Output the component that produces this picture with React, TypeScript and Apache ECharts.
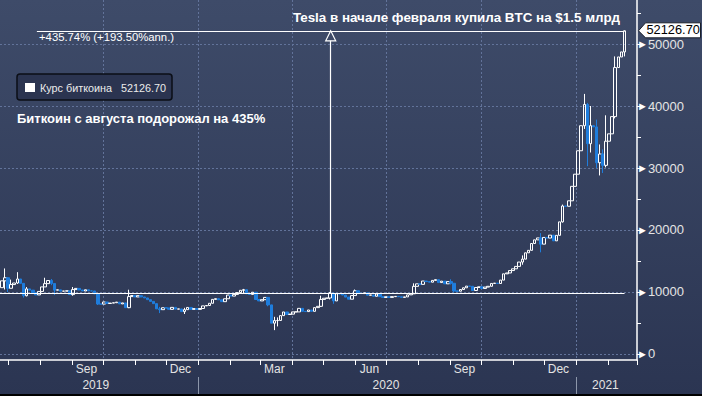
import React, { useEffect, useRef } from "react";
import * as echarts from "echarts";

// Days are counted from 1 January 2020 (day 0). One candle = 3 days.
const firstCandleDay = -190; // 25 Jun 2019
const candleStepDays = 3;
const firstOpen = 10700;

const closes = [
  // 2019
  11800, 12300, 10600, 11200, 11450, 12100, 11400, 9400, 10500, 10300,
  9880, 9530, 10090, 10820, 11350, 11850, 11380, 10300, 10350, 10140,
  10140, 10190, 9580, 10390, 10580, 10330, 10160, 10360, 10180, 10170,
  9700, 8060, 8050, 8390, 8150, 8210, 8270, 8370, 8080, 8240,
  7470, 9260, 9430, 9200, 9410, 9200, 9040, 8760, 8490, 8120,
  7280, 7150, 7460, 7420, 7200, 7520, 7240, 7270, 6830, 7150,
  7510, 7200, 7320, 7190,
  // 2020
  7340, 7760, 7820, 8180, 8810, 8920,
  8740, 8440, 8910, 9510, 9340, 9610, 9900, 10270, 10370, 9710,
  9610, 9960, 8790, 8560, 8760, 9130, 7920, 4970, 5390, 5410,
  6190, 6780, 6380, 6430, 6790, 6790, 7360, 6880, 6840, 7100,
  6880, 7480, 7690, 8800, 8990, 9030, 9810, 8560, 9730, 9670,
  9510, 9180, 8840, 9430, 10200, 9790, 9750, 9870, 9480, 9520,
  9310, 9690, 9250, 9120, 9230, 9130, 9250, 9290, 9240, 9130,
  9210, 9540, 9710, 10910, 11320, 11230, 11770, 11680, 11580, 11870,
  11990, 11520, 11750, 11320, 11680, 11410, 10170, 10130, 10400, 10680,
  10950, 10920, 10240, 10730, 10840, 10570, 10790, 10920, 11380, 11430,
  11370, 11920, 12930, 13070, 13460, 13740, 14130, 14830, 15300, 16320,
  16720, 17820, 18410, 18720, 17720, 18800, 18700, 19170, 18250, 19140,
  21310, 23870, 23830, 24710, 27040, 29000,
  // 2021
  32780, 36820, 40250, 33920, 36830, 36630, 30850, 32260, 30430, 34320,
  35510, 38290, 46200, 47910, 48720, 52126.7,
];

// [candle index, high, low] for candles whose wicks stick out
const wicks: [number, number, number][] = [
  [1, 13800, 10400], [2, 12400, 10000], [3, 12000, 10700], [5, 13200, 11300],
  [7, 11100, 9100], [8, 10800, 9300], [14, 12300, 11200], [16, 12100, 11100],
  [17, 11400, 9500], [23, 10800, 9400], [31, 9800, 7900], [41, 10370, 7400],
  [51, 7600, 6600], [59, 7450, 6450], [78, 10500, 9700], [86, 9200, 7700],
  [88, 6000, 3850], [89, 5900, 4450], [103, 9400, 7600], [106, 10000, 8800],
  [107, 9900, 8100], [114, 10400, 9400], [133, 11400, 9700], [145, 12050, 11200],
  [146, 11400, 9900], [168, 15900, 14400], [174, 19500, 16400], [181, 24100, 21200],
  [188, 41950, 36300], [189, 40500, 30300], [190, 40000, 32500], [192, 37800, 30000],
  [193, 33800, 28800], [194, 33000, 29200], [195, 38500, 30100], [198, 48000, 38000],
  [201, 52200, 48000],
];

const monthStartDays = [-184, -153, -122, -92, -61, -31, 0, 31, 60, 91, 121, 152, 182, 213, 244, 274, 305, 335, 366, 397, 425];
const monthLabelDays = [-108, -17, 74, 166, 258, 349];
const monthLabelNames = ["Sep", "Dec", "Mar", "Jun", "Sep", "Dec"];
const yearLabelDays = [-99, 182, 394.5];
const yearLabelNames = ["2019", "2020", "2021"];
const yearSeparatorDays = [0, 366];
const quarterGridDays = [-92, 0, 91, 182, 274, 366];
const yGridValues = [0, 10000, 20000, 30000, 40000, 50000];
const yMinorTickValues = [0, 5000, 10000, 15000, 20000, 25000, 30000, 35000, 40000, 45000, 50000, 55000];

const measureStartDay = -156;
const measureStartValue = 9729.8;
const lastDay = 413;
const lastClose = 52126.7;
const measureMidDay = 128.5;

const xMin = -191.71;
const xMax = 425.06;
const yMin = -968;
const yMax = 57097;

const FONT = '"Liberation Sans", Arial, sans-serif';
const BLUE = "#1f7ddc";
const GRID = "#62739a";

export default function App() {
  const ref = useRef<HTMLDivElement>(null);
  useEffect(() => {
    document.body.style.margin = "0";
    const chart = echarts.init(ref.current!, null, { renderer: "svg" });

    const candleData = closes.map((c, i) => {
      const o = i === 0 ? firstOpen : closes[i - 1];
      const w = wicks.find((k) => k[0] === i);
      const hi = Math.max(o, c, w ? w[1] : -Infinity);
      const lo = Math.min(o, c, w ? w[2] : Infinity);
      return [firstCandleDay + i * candleStepDays, o, c, lo, hi];
    });

    chart.setOption({
      animation: false,
      backgroundColor: "transparent",
      grid: { left: 0, right: 65, top: 0, bottom: 36 },
      xAxis: [
        {
          type: "value",
          min: xMin,
          max: xMax,
          position: "bottom",
          splitLine: { show: false },
          axisLine: { show: true, onZero: false, lineStyle: { color: "#ffffff", width: 1.5 } },
          axisTick: { show: false },
          axisLabel: {
            customValues: monthLabelDays,
            formatter: (v: number) => monthLabelNames[monthLabelDays.indexOf(v)] ?? "",
            color: "#e4e4e4",
            fontFamily: FONT,
            fontSize: 12,
            margin: 3,
          },
        },
        {
          type: "value",
          min: xMin,
          max: xMax,
          position: "bottom",
          offset: 17,
          splitLine: { show: false },
          axisLine: { show: false, onZero: false },
          axisTick: { show: false },
          axisLabel: {
            customValues: yearLabelDays,
            formatter: (v: number) => yearLabelNames[yearLabelDays.indexOf(v)] ?? "",
            color: "#e4e4e4",
            fontFamily: FONT,
            fontSize: 12,
            margin: 2,
          },
        },
      ],
      yAxis: {
        type: "value",
        position: "right",
        min: yMin,
        max: yMax,
        splitLine: { show: false },
        axisLine: { show: true, onZero: false, lineStyle: { color: "#ffffff", width: 1.5 } },
        axisTick: { show: true, customValues: yMinorTickValues, length: 4, lineStyle: { color: "#ffffff", width: 1 } },
        axisLabel: {
          customValues: yGridValues,
          margin: 0,
          formatter: (v: number) => `{t|►}{v|${v}}`,
          rich: {
            t: { fontSize: 11, color: "#ffffff", fontFamily: FONT, lineHeight: 12 },
            v: { fontSize: 13, color: "#e4e4e4", fontFamily: FONT, lineHeight: 12 },
          },
        },
      },
      series: [
        {
          type: "candlestick",
          z: 3,
          barWidth: 3,
          encode: { x: 0, y: [1, 2, 3, 4] },
          data: candleData,
          itemStyle: {
            color: "rgba(0,0,0,0)",
            color0: BLUE,
            borderColor: "#ffffff",
            borderColor0: BLUE,
            borderWidth: 1,
          },
          markLine: {
            silent: true,
            symbol: ["none", "none"],
            label: { show: false },
            lineStyle: { color: "#ffffff", width: 1.2, type: "solid" },
            z: 5,
            data: [
              [{ coord: [xMin, measureStartValue] }, { coord: [lastDay, measureStartValue] }],
              [{ coord: [measureStartDay, lastClose] }, { coord: [lastDay, lastClose] }],
              [{ coord: [measureMidDay, measureStartValue] }, { coord: [measureMidDay, lastClose] }],
            ],
          },
          markPoint: {
            silent: true,
            z: 6,
            label: { show: false },
            data: [
              {
                coord: [measureMidDay, lastClose],
                symbol: "triangle",
                symbolSize: [10, 10],
                symbolOffset: [0, 5],
                itemStyle: { color: "#3d4967", borderColor: "#ffffff", borderWidth: 1.2 },
              },
            ],
          },
        },
      ],
    });

    const px = (d: number) => chart.convertToPixel({ xAxisIndex: 0 }, d) as number;
    const py = (v: number) => chart.convertToPixel({ yAxisIndex: 0 }, v) as number;
    const left = px(xMin);
    const axisX = px(xMax);
    const top = py(yMax);
    const axisY = py(yMin);
    const yLast = py(lastClose);
    const bx = axisX + 1.5;

    const gridLines: any[] = [
      ...yGridValues.map((v) => ({
        type: "line",
        z: 0,
        silent: true,
        shape: { x1: left, y1: Math.round(py(v)) + 0.5, x2: axisX, y2: Math.round(py(v)) + 0.5 },
        style: { stroke: GRID, lineWidth: 1, lineDash: [2, 2] },
      })),
      ...quarterGridDays.map((d) => ({
        type: "line",
        z: 0,
        silent: true,
        shape: { x1: Math.round(px(d)) + 0.5, y1: top, x2: Math.round(px(d)) + 0.5, y2: axisY },
        style: { stroke: GRID, lineWidth: 1, lineDash: [2, 2] },
      })),
      ...yearSeparatorDays.map((d) => ({
        type: "line",
        z: 0,
        silent: true,
        shape: { x1: Math.round(px(d)) + 0.5, y1: axisY + 17, x2: Math.round(px(d)) + 0.5, y2: axisY + 34 },
        style: { stroke: "#8c96aa", lineWidth: 1 },
      })),
      ...monthStartDays.map((d) => ({
        type: "line",
        z: 0,
        silent: true,
        shape: { x1: Math.round(px(d)) + 0.5, y1: axisY, x2: Math.round(px(d)) + 0.5, y2: axisY + 5 },
        style: { stroke: "#ffffff", lineWidth: 1 },
      })),
    ];

    chart.setOption({
      graphic: [
        ...gridLines,
        {
          type: "text",
          x: 293,
          y: 11,
          z: 20,
          style: { text: "Tesla в начале февраля купила BTC на $1.5 млрд", fill: "#ffffff", fontFamily: FONT, fontSize: 13.4, fontWeight: "bold" },
        },
        {
          type: "text",
          x: 39,
          y: 31,
          z: 20,
          style: { text: "+435.74% (+193.50%ann.)", fill: "#ffffff", fontFamily: FONT, fontSize: 11.3 },
        },
        {
          type: "rect",
          z: 20,
          shape: { x: 17, y: 74, width: 155, height: 26, r: 3 },
          style: { fill: "#2b3450", stroke: "#0b0e16", lineWidth: 1.5 },
        },
        { type: "rect", z: 21, shape: { x: 25, y: 83, width: 10, height: 9 }, style: { fill: "#ffffff" } },
        {
          type: "text",
          x: 40,
          y: 82,
          z: 21,
          style: { text: "Курс биткоина", fill: "#ececec", fontFamily: FONT, fontSize: 10.8 },
        },
        {
          type: "text",
          x: 166,
          y: 82,
          z: 21,
          style: { text: "52126.70", fill: "#ececec", fontFamily: FONT, fontSize: 10.8, align: "right" },
        },
        {
          type: "text",
          x: 17,
          y: 112,
          z: 20,
          style: { text: "Биткоин с августа подорожал на 435%", fill: "#ffffff", fontFamily: FONT, fontSize: 13, fontWeight: "bold" },
        },
        {
          type: "polygon",
          shape: {
            points: [
              [bx, yLast],
              [bx + 7, yLast - 8],
              [bx + 62, yLast - 8],
              [bx + 62, yLast + 7],
              [bx + 7, yLast + 7],
            ],
          },
          style: { fill: "#ffffff", stroke: "#1a1f2a", lineWidth: 1 },
          z: 20,
        },
        {
          type: "text",
          x: bx + 8,
          y: yLast - 1,
          z: 21,
          style: { text: "52126.70", fill: "#000000", fontFamily: FONT, fontSize: 12.8, verticalAlign: "middle" },
        },
        { type: "rect", z: 20, shape: { x: 0, y: 394, width: 702, height: 2 }, style: { fill: "#000000" } },
      ],
    });

    return () => chart.dispose();
  }, []);

  return (
    <div
      ref={ref}
      style={{ width: 702, height: 396, background: "linear-gradient(180deg, #3e4b69 0%, #2b3552 100%)" }}
    />
  );
}
